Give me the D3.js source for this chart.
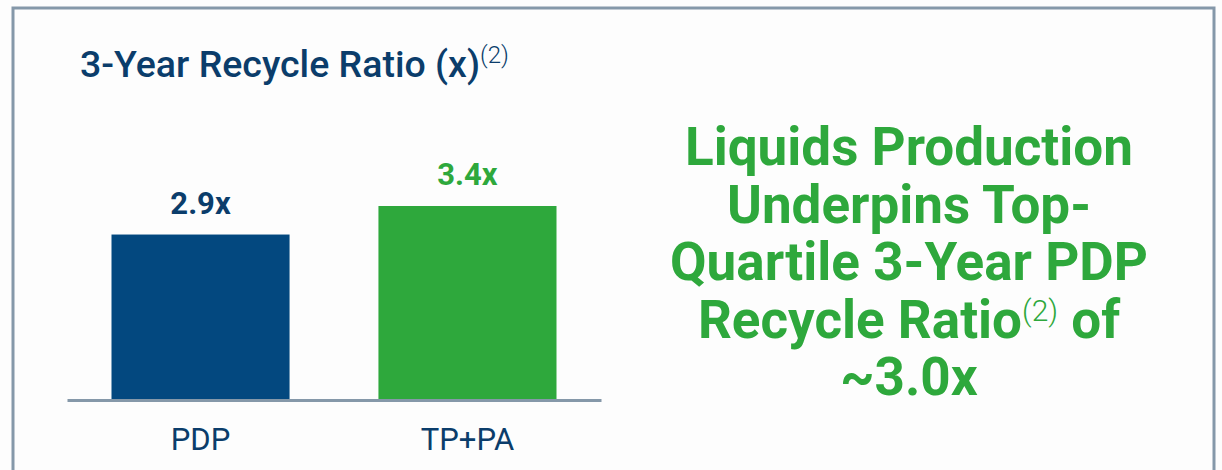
<!DOCTYPE html>
<html>
<head>
<meta charset="utf-8">
<script src="https://cdn.jsdelivr.net/npm/d3@7"></script>
<style>
  body { margin: 0; background: #fdfdfd; }
  svg { display: block; font-family: Roboto, "Noto Sans", sans-serif; }
</style>
</head>
<body>
<div id="chart"></div>
<script>
var categories = ["PDP", "TP+PA"];
var values = [2.9, 3.4];
var valueLabels = ["2.9x", "3.4x"];
var barColors = ["#03487f", "#2ea83c"];
var labelColors = ["#0b3d6b", "#2ea83c"];
var headline = ["Liquids Production", "Underpins Top-", "Quartile 3-Year PDP", "Recycle Ratio|(2)| of", "~3.0x"];

var w = 1222, h = 470;
var p = {"left": 67, "right": 601, "base": 400};

var svg = d3.select("#chart").append("svg")
  .attr("width", w)
  .attr("height", h);

// frame, open at the bottom
svg.append("path")
  .attr("d", "M13," + h + "V8H1214V" + h)
  .attr("fill", "none")
  .attr("stroke", "#8598a9")
  .attr("stroke-width", 3);

// title
var title = svg.append("text")
  .attr("x", 80)
  .attr("y", 77)
  .attr("fill", "#0b3d6b")
  .style("font-size", "37.5px")
  .style("font-weight", 500);
title.append("tspan").text("3-Year Recycle Ratio (x)");
title.append("tspan")
  .attr("dy", -14)
  .style("font-size", "24px")
  .style("font-weight", 300)
  .text("(2)");

var x = d3.scaleBand()
  .domain(categories)
  .range([p.left, p.right])
  .paddingInner(0.333)
  .paddingOuter(0.1667);

var y = d3.scaleLinear()
  .domain([0, 3.4])
  .range([p.base, 206]);

svg.selectAll(".bar")
  .data(values)
  .enter()
    .append("rect")
      .attr("x", function(d, i){ return x(categories[i]) })
      .attr("y", function(d){ return y(d) })
      .attr("width", x.bandwidth())
      .attr("height", function(d){ return p.base - y(d) })
      .style("fill", function(d, i){ return barColors[i] })

svg.selectAll(".val")
  .data(values)
  .enter()
    .append("text")
      .attr("x", function(d, i){ return x(categories[i]) + x.bandwidth()/2 })
      .attr("y", function(d){ return y(d) - 21 })
      .attr("text-anchor", "middle")
      .attr("fill", function(d, i){ return labelColors[i] })
      .style("font-size", "31px")
      .style("font-weight", 700)
      .text(function(d, i){ return valueLabels[i] })

// axis
var xAxis = d3.axisBottom(x).tickSize(0).tickPadding(28);
var ax = svg.append("g")
  .attr("transform", "translate(0," + p.base + ")")
  .call(xAxis);
ax.select(".domain").attr("stroke", "#8598a9").attr("stroke-width", 3);
ax.selectAll("text")
  .attr("fill", "#0b3d6b")
  .style("font-family", "Roboto, sans-serif")
  .style("font-size", "31px");

// headline on the right
var hl = svg.append("text")
  .attr("text-anchor", "middle")
  .attr("fill", "#2ea83c")
  .style("font-size", "53px")
  .style("font-weight", 700);
headline.forEach(function(line, i){
  var t = hl.append("tspan").attr("x", 909).attr("y", 165 + i * 57.5);
  var parts = line.split("|");
  t.append("tspan").text(parts[0]);
  if (parts.length > 1) {
    t.append("tspan").attr("dy", -17).style("font-size", "30px").style("font-weight", 300).text(parts[1]);
    t.append("tspan").attr("dy", 17).text(parts[2]);
  }
});
</script>
</body>
</html>
